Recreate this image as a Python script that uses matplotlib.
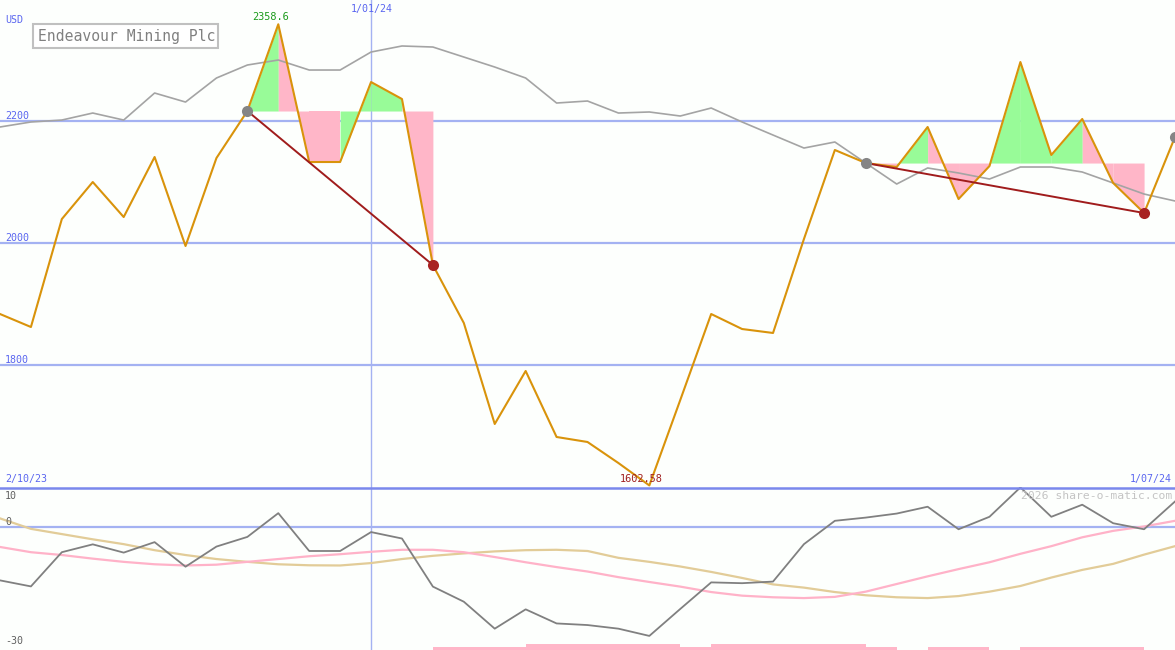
import matplotlib
matplotlib.use("Agg")
import matplotlib.pyplot as plt
from matplotlib.patches import Rectangle
from matplotlib.lines import Line2D

# ---------------- data ----------------
weeks = list(range(39))  # weekly points, 9 Oct 2023 .. 1 Jul 2024
date_labels = ["2/10/23", "1/01/24", "1/07/24"]
jan_index = 12
title = "Endeavour Mining Plc"
currency = "USD"
price_ticks = [2200, 2000, 1800]
ind_ticks = [10, 0, -30]

price = [1883.6, 1862.3, 2039.3, 2100.0, 2042.6, 2141.0, 1995.1, 2139.3, 2216.4, 2358.6,
         2132.8, 2132.8, 2263.9, 2236.1, 1963.9, 1868.9, 1703.3, 1790.2, 1682.0, 1673.8,
         1639.3, 1602.58, 1742.6, 1883.6, 1859.0, 1852.5, 2006.6, 2152.5, 2131.1, 2124.6,
         2190.2, 2072.1, 2126.2, 2296.7, 2144.3, 2203.3, 2098.4, 2049.2, 2173.8]

avg = [2190.2, 2198.4, 2201.6, 2213.1, 2201.6, 2245.9, 2231.1, 2270.5, 2291.8, 2300.0,
       2283.6, 2283.6, 2313.1, 2323.0, 2321.3, 2304.9, 2288.5, 2270.5, 2229.5, 2232.8,
       2213.1, 2214.8, 2208.2, 2221.3, 2198.4, 2177.0, 2155.7, 2165.6, 2131.1, 2096.7,
       2123.0, 2114.8, 2104.9, 2124.6, 2124.6, 2116.4, 2098.4, 2080.3, 2068.9]

# swing blocks: (start index, end index, segment colours g/p)
block1_start, block1_end = 8, 14
block1_colors = ["g", "p", "p", "g", "g", "p"]
block2_start, block2_end = 28, 37
block2_colors = ["p", "g", "p", "p", "g", "g", "g", "p", "p"]
gray_dots = [8, 28, 38]
red_dots = [14, 37]
high_label = "2358.6"
low_label = "1602.58"

momentum = [-13.2, -14.7, -6.2, -4.25, -6.3, -3.7, -9.8, -4.8, -2.4, 3.5,
            -5.9, -5.9, -1.2, -2.8, -14.75, -18.5, -25.2, -20.4, -23.9, -24.3,
            -25.2, -27.0, -20.3, -13.7, -13.9, -13.5, -4.2, 1.6, 2.4, 3.4,
            5.1, -0.5, 2.6, 9.9, 2.6, 5.6, 1.0, -0.5, 6.4]
pink_avg = [-4.9, -6.2, -6.9, -7.8, -8.6, -9.2, -9.5, -9.3, -8.6, -7.9,
            -7.2, -6.7, -6.1, -5.6, -5.6, -6.2, -7.4, -8.7, -9.9, -11.0,
            -12.4, -13.6, -14.75, -16.1, -17.0, -17.4, -17.6, -17.3, -16.0, -14.1,
            -12.2, -10.4, -8.7, -6.6, -4.7, -2.5, -0.9, 0.2, 1.6]
tan_avg = [2.2, -0.4, -1.7, -3.0, -4.2, -5.7, -6.9, -7.9, -8.6, -9.2,
           -9.45, -9.5, -8.9, -7.9, -7.1, -6.5, -6.0, -5.7, -5.6, -5.9,
           -7.6, -8.6, -9.75, -11.1, -12.6, -14.2, -15.0, -16.1, -16.9, -17.4,
           -17.6, -17.1, -16.0, -14.6, -12.5, -10.6, -9.1, -6.8, -4.7]
# bars per weekly interval (height above panel floor)
bars = [0, 0, 0, 0, 0, 0, 0, 0, 0, 0, 0, 0, 0, 0, 0.75, 0.75, 0.75, 1.5, 1.5, 1.5,
        1.5, 1.5, 0.75, 1.5, 1.5, 1.5, 1.5, 1.5, 0.75, 0, 0.75, 0.75, 0, 0.75, 0.75, 0.75,
        0.75, 0]

# ---------------- style ----------------
BG = "#fdfffd"
GRID = "#a4b2f2"
BORDER = "#7a88ec"
BLUE_TXT = "#5a66f0"
ORANGE = "#d9930b"
GRAY = "#a4a4a4"
GREEN = "#98fb98"
PINK = "#ffb6c8"
DRED = "#a01c1c"
MONO = "DejaVu Sans Mono"

W, H = 1175, 650
fig = plt.figure(figsize=(W / 100, H / 100), dpi=100, facecolor=BG)
top_h = 487
ax = fig.add_axes([0, (H - top_h) / H, 1, top_h / H], facecolor=BG)
bx = fig.add_axes([0, 0, 1, (H - top_h) / H], facecolor=BG)
for a in (ax, bx):
    a.set_xlim(0, 38)
    a.axis("off")

ax.set_ylim(1600, 2398.4)
bx.set_ylim(-30.5, 10)

# grid
for t in price_ticks:
    ax.axhline(t, color=GRID, lw=1.6, zorder=1)
ax.axvline(jan_index, color=GRID, lw=1.0, zorder=1)
bx.axvline(jan_index, color=GRID, lw=1.0, zorder=1)
bx.axhline(0, color=GRID, lw=1.6, zorder=1)

# fills
def draw_block(start, colors):
    level = price[start]
    for k, c in enumerate(colors):
        i = start + k
        ax.fill_between([weeks[i], weeks[i + 1]], [price[i], price[i + 1]], level,
                        color=GREEN if c == "g" else PINK, lw=0, zorder=2)

draw_block(block1_start, block1_colors)
draw_block(block2_start, block2_colors)

ax.plot(weeks, avg, color=GRAY, lw=1.2, zorder=3)
ax.plot(weeks, price, color=ORANGE, lw=1.5, zorder=4)

for s, e in [(block1_start, block1_end), (block2_start, block2_end)]:
    ax.plot([weeks[s], weeks[e]], [price[s], price[e]], color=DRED, lw=1.4, zorder=5)
for i in gray_dots:
    ax.plot(weeks[i], price[i], "o", ms=8, color="#858585", mec="none", zorder=6,
            clip_on=False)
for i in red_dots:
    ax.plot(weeks[i], price[i], "o", ms=8, color="#a82222", mec="none", zorder=6)

hi = price.index(max(price))
lo = price.index(min(price))
ax.text(weeks[hi] - 0.25, price[hi] + 4, high_label, color="#1a9a1a", fontsize=7.4,
        family=MONO, ha="center", va="bottom", zorder=7)
ax.text(weeks[lo] - 0.25, price[lo] + 3, low_label, color="#a02020", fontsize=7.4,
        family=MONO, ha="center", va="bottom", zorder=7)

# bottom indicator
bx.bar([w for w in weeks[:-1]], bars, width=1.0, align="edge", bottom=-30.5,
       color=PINK, lw=0, zorder=2)
bx.plot(weeks, tan_avg, color="#e2cc98", lw=1.6, zorder=3)
bx.plot(weeks, pink_avg, color="#ffb2c8", lw=1.6, zorder=3)
bx.plot(weeks, momentum, color="#808080", lw=1.3, zorder=4)

# panel border
fig.add_artist(Line2D([0, 1], [(H - 487.5) / H] * 2, color=BORDER, lw=1.8))

# texts (pixel positions)
def ftext(x, y, s, **kw):
    fig.text(x / W, 1 - y / H, s, family=MONO, **kw)

ftext(5, 20, currency, color=BLUE_TXT, fontsize=7.2, va="center")
for t, y in zip(price_ticks, [116, 238, 360]):
    ftext(5, y, str(t), color=BLUE_TXT, fontsize=7.2, va="center")
ftext(372, 9, date_labels[1], color=BLUE_TXT, fontsize=7.2, va="center", ha="center")
ftext(5, 479, date_labels[0], color=BLUE_TXT, fontsize=7.2, va="center")
ftext(1172, 479, date_labels[2], color=BLUE_TXT, fontsize=7.2, va="center", ha="right")
ftext(1172, 496, "2026 share-o-matic.com", color="#c4c4c4", fontsize=8.2,
      va="center", ha="right")
for t, y in zip(ind_ticks, [496, 522, 641]):
    ftext(5, y, str(t), color="#606060", fontsize=7.2, va="center")

# title box
fig.add_artist(Rectangle((33 / W, 1 - 48 / H), (218 - 33) / W, 24 / H,
                         transform=fig.transFigure, facecolor="white",
                         edgecolor="#c0c0c0", lw=1.5, zorder=10))
ftext(38, 36.5, title, color="#808080", fontsize=10.6, va="center", zorder=11)

fig.savefig("out.png", dpi=100, facecolor=BG)
